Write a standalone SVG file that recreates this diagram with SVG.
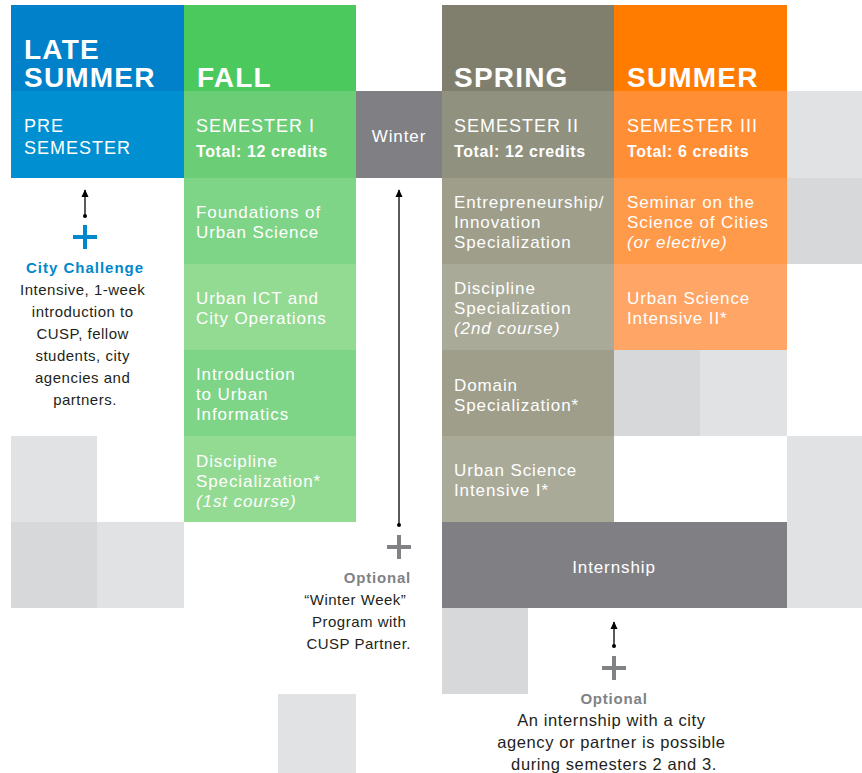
<svg xmlns="http://www.w3.org/2000/svg" width="862" height="773" viewBox="0 0 862 773">
  <style>
    .hd { font-family: "Liberation Sans", Arial, sans-serif; font-weight: bold; font-size: 28px; fill: #fff; letter-spacing: 1.2px; }
    .sem { font-family: "Liberation Sans", Arial, sans-serif; font-size: 18px; fill: #fff; letter-spacing: 1px; }
    .tot { font-family: "Liberation Sans", Arial, sans-serif; font-weight: bold; font-size: 16px; fill: #fff; letter-spacing: 0.6px; }
    .crs { font-family: "Liberation Sans", Arial, sans-serif; font-size: 17px; fill: #fff; letter-spacing: 0.9px; }
    .it { font-style: italic; }
    .note { font-family: "Liberation Sans", Arial, sans-serif; font-size: 15px; fill: #231f20; letter-spacing: 0.5px; }
    .note2 { font-family: "Liberation Sans", Arial, sans-serif; font-size: 16.5px; fill: #231f20; letter-spacing: 0.6px; }
    .opt { font-family: "Liberation Sans", Arial, sans-serif; font-weight: bold; font-size: 15px; fill: #808285; letter-spacing: 0.8px; }
    .cc { font-family: "Liberation Sans", Arial, sans-serif; font-weight: bold; font-size: 15px; fill: #0088cc; letter-spacing: 1px; }
    .tile1 { fill: #e1e2e4; }
    .tile2 { fill: #d7d8da; }
    .conn { stroke: #000; stroke-width: 1.3; fill: none; }
  </style>
  <defs>
    <marker id="head" viewBox="0 0 10 10" refX="9" refY="5" markerWidth="6" markerHeight="6" orient="auto">
      <path d="M0,0.5 L10,5 L0,9.5 Z" fill="#000"/>
    </marker>
  </defs>

  <!-- background grey tiles -->
  <g id="tiles">
    <rect class="tile1" x="787" y="91" width="75" height="87"/>
    <rect class="tile2" x="787" y="178" width="75" height="86"/>
    <rect class="tile2" x="614" y="350" width="86" height="86"/>
    <rect class="tile1" x="700" y="350" width="87" height="86"/>
    <rect class="tile1" x="787" y="436" width="75" height="172"/>
    <rect class="tile1" x="11" y="436" width="86" height="86"/>
    <rect class="tile2" x="11" y="522" width="86" height="86"/>
    <rect class="tile1" x="97" y="522" width="87" height="86"/>
    <rect class="tile2" x="442" y="608" width="86" height="86"/>
    <rect class="tile1" x="278" y="694" width="78" height="79"/>
  </g>

  <!-- Late summer -->
  <g id="late-summer">
    <rect x="11" y="5" width="173" height="86" fill="#0081c9"/>
    <rect x="11" y="91" width="173" height="87" fill="#0090d2"/>
    <text class="hd" x="24" y="59" font-size="27">LATE</text>
    <text class="hd" x="24" y="87">SUMMER</text>
    <text class="sem" x="24" y="132">PRE</text>
    <text class="sem" x="24" y="154">SEMESTER</text>
  </g>

  <!-- Fall -->
  <g id="fall">
    <rect x="184" y="5" width="172" height="86" fill="#4cc95c"/>
    <rect x="184" y="91" width="172" height="87" fill="#6ccd77"/>
    <text class="hd" x="197" y="87">FALL</text>
    <text class="sem" x="196" y="132">SEMESTER I</text>
    <text class="tot" x="196" y="157">Total: 12 credits</text>
  </g>
  <g id="fall-1">
    <rect x="184" y="178" width="172" height="86" fill="#7ed487"/>
    <text class="crs" x="196" y="218">Foundations of</text>
    <text class="crs" x="196" y="238">Urban Science</text>
  </g>
  <g id="fall-2">
    <rect x="184" y="264" width="172" height="86" fill="#93da93"/>
    <text class="crs" x="196" y="304">Urban ICT and</text>
    <text class="crs" x="196" y="324">City Operations</text>
  </g>
  <g id="fall-3">
    <rect x="184" y="350" width="172" height="86" fill="#7ed487"/>
    <text class="crs" x="196" y="380">Introduction</text>
    <text class="crs" x="196" y="400">to Urban</text>
    <text class="crs" x="196" y="420">Informatics</text>
  </g>
  <g id="fall-4">
    <rect x="184" y="436" width="172" height="86" fill="#93da93"/>
    <text class="crs" x="196" y="467">Discipline</text>
    <text class="crs" x="196" y="487">Specialization*</text>
    <text class="crs it" x="196" y="507">(1st course)</text>
  </g>

  <!-- Winter -->
  <g id="winter">
    <rect x="356" y="91" width="86" height="87" fill="#808084"/>
    <text class="crs" x="399" y="142" text-anchor="middle" font-size="16">Winter</text>
  </g>

  <!-- Spring -->
  <g id="spring">
    <rect x="442" y="5" width="172" height="86" fill="#807f6e"/>
    <rect x="442" y="91" width="172" height="87" fill="#919180"/>
    <text class="hd" x="454" y="87">SPRING</text>
    <text class="sem" x="454" y="132">SEMESTER II</text>
    <text class="tot" x="454" y="157">Total: 12 credits</text>
  </g>
  <g id="spring-1">
    <rect x="442" y="178" width="172" height="86" fill="#9e9e8b"/>
    <text class="crs" x="454" y="208">Entrepreneurship/</text>
    <text class="crs" x="454" y="228">Innovation</text>
    <text class="crs" x="454" y="248">Specialization</text>
  </g>
  <g id="spring-2">
    <rect x="442" y="264" width="172" height="86" fill="#aaaa98"/>
    <text class="crs" x="454" y="294">Discipline</text>
    <text class="crs" x="454" y="314">Specialization</text>
    <text class="crs it" x="454" y="334">(2nd course)</text>
  </g>
  <g id="spring-3">
    <rect x="442" y="350" width="172" height="86" fill="#9e9e8b"/>
    <text class="crs" x="454" y="391">Domain</text>
    <text class="crs" x="454" y="411">Specialization*</text>
  </g>
  <g id="spring-4">
    <rect x="442" y="436" width="172" height="86" fill="#aaaa98"/>
    <text class="crs" x="454" y="476">Urban Science</text>
    <text class="crs" x="454" y="496">Intensive I*</text>
  </g>

  <!-- Summer -->
  <g id="summer">
    <rect x="614" y="5" width="173" height="86" fill="#ff7c00"/>
    <rect x="614" y="91" width="173" height="87" fill="#ff8e35"/>
    <text class="hd" x="627" y="87">SUMMER</text>
    <text class="sem" x="627" y="132">SEMESTER III</text>
    <text class="tot" x="627" y="157">Total: 6 credits</text>
  </g>
  <g id="summer-1">
    <rect x="614" y="178" width="173" height="86" fill="#ff9a4a"/>
    <text class="crs" x="627" y="208">Seminar on the</text>
    <text class="crs" x="627" y="228">Science of Cities</text>
    <text class="crs it" x="627" y="248">(or elective)</text>
  </g>
  <g id="summer-2">
    <rect x="614" y="264" width="173" height="86" fill="#ffa565"/>
    <text class="crs" x="627" y="304">Urban Science</text>
    <text class="crs" x="627" y="324">Intensive II*</text>
  </g>

  <!-- Internship -->
  <g id="internship">
    <rect x="442" y="522" width="345" height="86" fill="#808084"/>
    <text class="crs" x="614" y="573" text-anchor="middle">Internship</text>
  </g>

  <!-- Connectors -->
  <g id="connectors">
    <line class="conn" x1="85" y1="216" x2="85" y2="190" marker-end="url(#head)"/>
    <circle cx="85" cy="216" r="2" fill="#000"/>
    <line class="conn" x1="399" y1="525" x2="399" y2="190" marker-end="url(#head)"/>
    <circle cx="399" cy="525" r="2" fill="#000"/>
    <line class="conn" x1="614" y1="646" x2="614" y2="622" marker-end="url(#head)"/>
    <circle cx="614" cy="646" r="2" fill="#000"/>
  </g>

  <!-- City Challenge note -->
  <g id="city-challenge">
    <path d="M73,237 H97 M85,225 V249" stroke="#0088cc" stroke-width="4"/>
    <text class="cc" x="85" y="273" text-anchor="middle">City Challenge</text>
    <text class="note" text-anchor="middle">
      <tspan x="85" y="295">Intensive, 1-week</tspan>
      <tspan x="85" y="317">introduction to</tspan>
      <tspan x="85" y="339">CUSP, fellow</tspan>
      <tspan x="85" y="361">students, city</tspan>
      <tspan x="85" y="383">agencies and</tspan>
      <tspan x="85" y="405">partners.</tspan>
    </text>
  </g>

  <!-- Winter week note -->
  <g id="winter-week">
    <path d="M387,547 H411 M399,535 V559" stroke="#808285" stroke-width="4"/>
    <text class="opt" x="411" y="583" text-anchor="end">Optional</text>
    <text class="note" text-anchor="end" letter-spacing="0.9">
      <tspan x="411" y="605">“Winter Week”</tspan>
      <tspan x="411" y="627">Program with</tspan>
      <tspan x="411" y="649">CUSP Partner.</tspan>
    </text>
  </g>

  <!-- Internship note -->
  <g id="internship-note">
    <path d="M602,668 H626 M614,656 V680" stroke="#808285" stroke-width="4"/>
    <text class="opt" x="614" y="704" text-anchor="middle" font-size="16">Optional</text>
    <text class="note2" text-anchor="middle">
      <tspan x="614" y="726">An internship with a city</tspan>
      <tspan x="614" y="748">agency or partner is possible</tspan>
      <tspan x="614" y="770">during semesters 2 and 3.</tspan>
    </text>
  </g>
</svg>
